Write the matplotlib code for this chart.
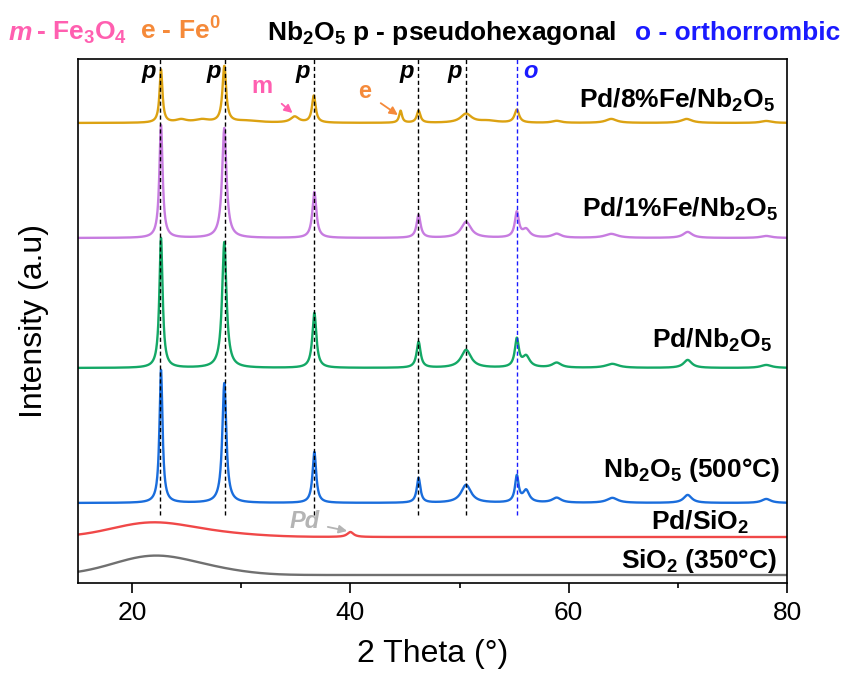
import numpy as np
import matplotlib
matplotlib.use("Agg")
import matplotlib.pyplot as plt

plt.rcParams['font.family'] = ['Liberation Sans', 'DejaVu Sans']
plt.rcParams['mathtext.fontset'] = 'custom'
plt.rcParams['mathtext.rm'] = 'Liberation Sans:bold'
plt.rcParams['mathtext.it'] = 'Liberation Sans:italic:bold'
plt.rcParams['mathtext.bf'] = 'Liberation Sans:bold'

# ---- data (2theta in deg, intensity in arbitrary offset units) ----
two_theta = np.linspace(15, 80, 3000)

names = ["SiO$_2$ (350°C)", "Pd/SiO$_2$", "Nb$_2$O$_5$ (500°C)",
         "Pd/Nb$_2$O$_5$", "Pd/1%Fe/Nb$_2$O$_5$", "Pd/8%Fe/Nb$_2$O$_5$"]
colors = ["#707070", "#f04848", "#1a6ddc", "#14a866", "#c77ce0", "#dca212"]
baselines = [8, 46, 80, 215, 345, 460]

# sharp reflections: (centre, height above baseline, half width)
peaks_sio2 = []
peaks_pdsio2 = [(40.0, 5, 0.35)]
peaks_nb = [(22.65, 133, 0.17), (28.45, 120, 0.22), (36.7, 51, 0.2), (46.25, 25, 0.2),
            (50.6, 18, 0.55), (55.25, 26, 0.2), (56.1, 12, 0.35), (58.9, 5, 0.5),
            (64.0, 5, 0.6), (70.9, 8, 0.45), (78.1, 4, 0.5)]
peaks_pdnb = [(22.65, 130, 0.18), (28.45, 126, 0.24), (36.7, 55, 0.22), (46.25, 26, 0.22),
              (50.6, 18, 0.55), (55.25, 28, 0.22), (56.1, 11, 0.4), (58.9, 5, 0.5),
              (64.0, 4, 0.7), (70.9, 8, 0.45), (78.1, 3, 0.6)]
peaks_1fe = [(22.65, 113, 0.18), (28.45, 110, 0.24), (36.7, 46, 0.22), (46.25, 23, 0.22),
             (50.6, 16, 0.55), (55.25, 25, 0.22), (56.1, 8, 0.4), (58.9, 4, 0.5),
             (63.9, 4, 0.7), (70.9, 6, 0.5), (78.1, 2, 0.6)]
peaks_8fe = [(22.65, 53, 0.16), (24.5, 3, 0.6), (26.4, 3, 0.8), (28.45, 56, 0.2),
             (30.5, 2, 1.5), (34.9, 6, 0.45), (36.65, 27, 0.2), (44.6, 12, 0.16),
             (46.25, 12, 0.2), (50.6, 9, 0.6), (52.6, 2, 1.0), (55.25, 13, 0.25),
             (58.9, 2, 0.5), (63.9, 4, 0.6), (70.8, 4, 0.6), (78.1, 2, 0.6)]
peak_sets = [peaks_sio2, peaks_pdsio2, peaks_nb, peaks_pdnb, peaks_1fe, peaks_8fe]

# amorphous humps: (centre, height, sigma)
humps = [[(22.0, 19, 3.7), (28.0, 3, 3.0)],
         [(21.5, 13, 3.5), (27.0, 4, 4.0)],
         [], [], [], []]

# reference lines and phase tags
ref_lines = [22.6, 28.5, 36.7, 46.2, 50.6, 55.25]
ref_colors = ["k", "k", "k", "k", "k", "#1a1aff"]
ref_tags = ["p", "p", "p", "p", "p", "o"]

label_y = [15, 53, 106, 235, 366, 475]
label_x = [79.1, 76.5, 79.4, 78.6, 79.2, 78.9]

fig = plt.figure(figsize=(8.49, 6.80), dpi=100)
ax = fig.add_axes([77.5 / 849, 97 / 680, 709.5 / 849, 524 / 680])

for name, c, b, pk, hm in zip(names, colors, baselines, peak_sets, humps):
    y = np.full_like(two_theta, b, dtype=float)
    for x0, h, g in pk:
        y += h * g ** 2 / ((two_theta - x0) ** 2 + g ** 2)
    for x0, h, s in hm:
        y += h * np.exp(-(two_theta - x0) ** 2 / (2 * s ** 2))
    ax.plot(two_theta, y, color=c, lw=1.7)

for xr, c, t in zip(ref_lines, ref_colors, ref_tags):
    ax.plot([xr, xr], [68, 524], color=c, lw=1.0, ls=(0, (3, 2)))
    if t == "p":
        ax.text(xr - 0.4, 511, t, color=c, fontsize=17, fontweight='bold',
                fontstyle='italic', ha='right', va='center')
    else:
        ax.text(xr + 0.6, 511, t, color=c, fontsize=17, fontweight='bold',
                fontstyle='italic', ha='left', va='center')

for name, lx, ly in zip(names, label_x, label_y):
    ax.text(lx, ly, name, fontsize=19, fontweight='bold', ha='right', va='baseline')

# phase annotations
ax.annotate("m", xy=(34.7, 470), xytext=(31.9, 496), color="#ff5fb0", fontsize=17,
            fontweight='bold', ha='center', va='center',
            arrowprops=dict(arrowstyle='-|>', color="#ff5fb0", lw=1.3, mutation_scale=12,
                            shrinkA=6, shrinkB=0))
ax.annotate("e", xy=(44.35, 468), xytext=(41.3, 491), color="#f58a3a", fontsize=17,
            fontweight='bold', ha='center', va='center',
            arrowprops=dict(arrowstyle='-|>', color="#f58a3a", lw=1.3, mutation_scale=12,
                            shrinkA=6, shrinkB=0))
ax.annotate("Pd", xy=(39.7, 52), xytext=(35.8, 61), color="#b4b4b4", fontsize=17,
            fontweight='bold', fontstyle='italic', ha='center', va='center',
            arrowprops=dict(arrowstyle='-|>', color="#b4b4b4", lw=1.3, mutation_scale=12,
                            shrinkA=4, shrinkB=0))

# header legend
hy = 1 - 40 / 680
fig.text(9 / 849, hy, "m", color="#ff5fb0", fontsize=19, fontweight='bold',
         fontstyle='italic', va='baseline')
fig.text(36 / 849, hy, "- Fe$_3$O$_4$", color="#ff5fb0", fontsize=19, fontweight='bold',
         va='baseline')
fig.text(140 / 849, hy, "e - Fe$^0$", color="#f58a3a", fontsize=19, fontweight='bold',
         va='baseline')
fig.text(267 / 849, hy, "Nb$_2$O$_5$ p - pseudohexagonal", color="k", fontsize=19,
         fontweight='bold', va='baseline')
fig.text(635 / 849, hy, "o - orthorrombic", color="#1a1aff", fontsize=19,
         fontweight='bold', va='baseline')

ax.set_xlim(15, 80)
ax.set_ylim(0, 524)
ax.set_xticks([20, 40, 60, 80])
ax.set_xticks([30, 50, 70], minor=True)
ax.set_yticks([])
ax.tick_params(axis='x', which='major', direction='out', length=7, width=1.2,
               labelsize=19, pad=6)
ax.tick_params(axis='x', which='minor', direction='out', length=3.5, width=1.2)
for sp in ax.spines.values():
    sp.set_linewidth(1.2)
ax.set_xlabel("2 Theta (°)", fontsize=23, labelpad=10)
ax.set_ylabel("Intensity (a.u)", fontsize=23)
ax.yaxis.set_label_coords(-0.04, 0.5)

fig.savefig("out.png", dpi=100)
